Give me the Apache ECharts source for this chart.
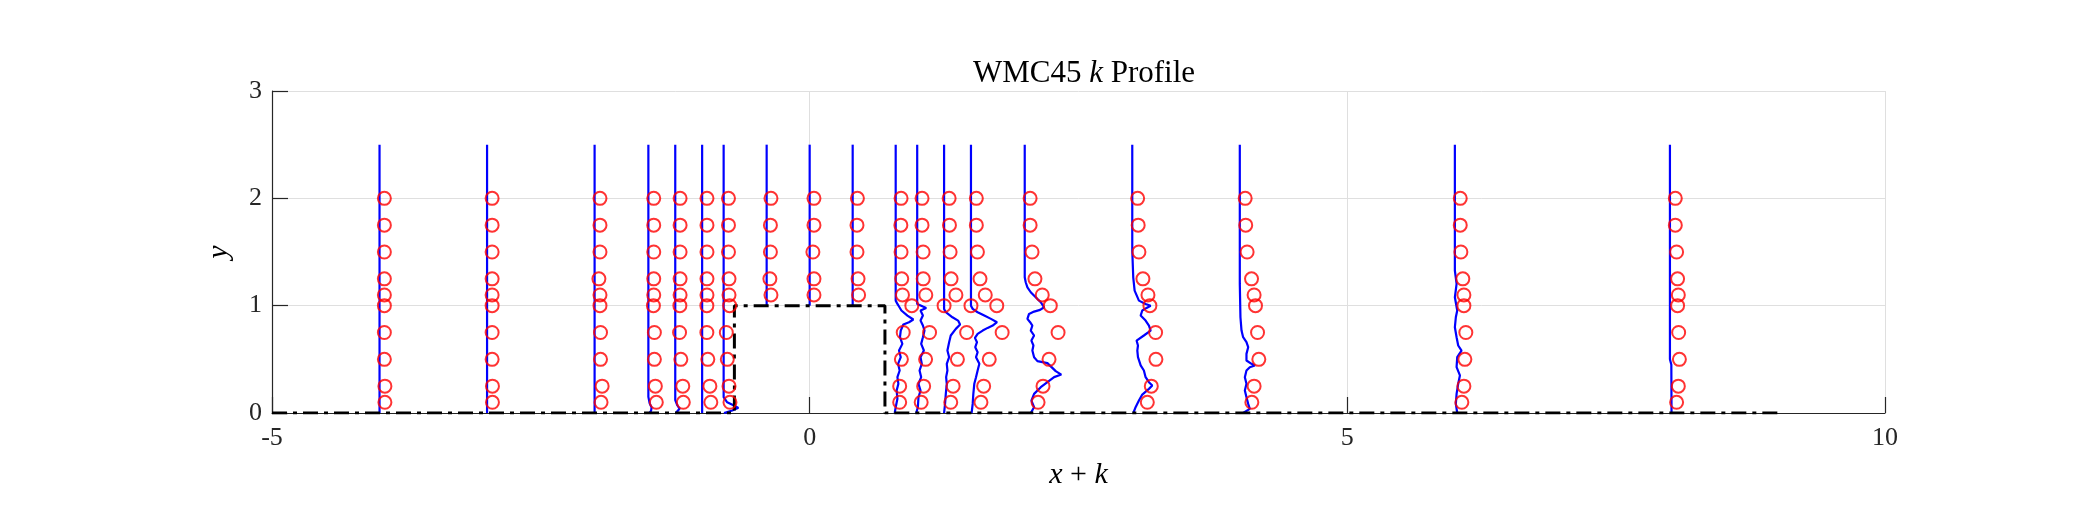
<!DOCTYPE html>
<html>
<head>
<meta charset="utf-8">
<title>WMC45 k Profile</title>
<script src="https://cdn.jsdelivr.net/npm/echarts@6/dist/echarts.min.js"></script>
<style>
  html, body { margin: 0; padding: 0; background: #fff; }
  #chart { width: 2083px; height: 521px; }
</style>
</head>
<body>
<div id="chart"></div>
<script>
// measurement stations (x positions of each profile)
var stations = [-4, -3, -2, -1.5, -1.25, -1, -0.8, -0.4, 0, 0.4, 0.8, 1, 1.25, 1.5, 2, 3, 4, 6, 8];

// heights of the experimental points
var expY = [0.1, 0.25, 0.5, 0.75, 1.0, 1.1, 1.25, 1.5, 1.75, 2.0];

// experimental k (scaled) at each station, same order as expY; null = no point
var expK = [
    [0.05, 0.05, 0.045, 0.045, 0.045, 0.045, 0.045, 0.045, 0.045, 0.045],   // -4
    [0.05, 0.05, 0.047, 0.047, 0.047, 0.047, 0.047, 0.047, 0.047, 0.047],   // -3
    [0.06, 0.07, 0.055, 0.055, 0.05, 0.05, 0.04, 0.05, 0.05, 0.05],         // -2
    [0.074, 0.065, 0.056, 0.056, 0.047, 0.05, 0.05, 0.05, 0.05, 0.05],      // -1.5
    [0.075, 0.07, 0.052, 0.04, 0.043, 0.045, 0.045, 0.045, 0.045, 0.045],   // -1.25
    [0.081, 0.072, 0.053, 0.044, 0.044, 0.045, 0.045, 0.045, 0.045, 0.045], // -1
    [0.059, 0.05, 0.034, 0.025, 0.056, 0.05, 0.05, 0.045, 0.045, 0.045],    // -0.8
    [null, null, null, null, null, 0.04, 0.03, 0.035, 0.035, 0.04],         // -0.4
    [null, null, null, null, null, 0.04, 0.04, 0.03, 0.04, 0.04],           // 0
    [null, null, null, null, null, 0.055, 0.05, 0.04, 0.04, 0.044],         // 0.4
    [0.037, 0.037, 0.053, 0.07, 0.15, 0.063, 0.056, 0.05, 0.048, 0.05],     // 0.8
    [0.037, 0.06, 0.078, 0.115, 0.25, 0.08, 0.056, 0.055, 0.045, 0.045],    // 1
    [0.062, 0.084, 0.124, 0.21, 0.25, 0.11, 0.065, 0.056, 0.05, 0.047],     // 1.25
    [0.093, 0.118, 0.17, 0.29, 0.24, 0.133, 0.084, 0.06, 0.05, 0.05],       // 1.5
    [0.124, 0.17, 0.226, 0.31, 0.238, 0.163, 0.095, 0.068, 0.05, 0.05],     // 2
    [0.14, 0.177, 0.22, 0.217, 0.164, 0.146, 0.099, 0.062, 0.055, 0.05],    // 3
    [0.112, 0.133, 0.177, 0.165, 0.146, 0.133, 0.109, 0.068, 0.055, 0.05],  // 4
    [0.065, 0.084, 0.093, 0.102, 0.084, 0.084, 0.074, 0.056, 0.05, 0.05],   // 6
    [0.062, 0.078, 0.088, 0.081, 0.071, 0.078, 0.071, 0.062, 0.05, 0.05]    // 8
];

// simulated k profiles, [y, k] pairs from bottom to top
var simK = [
    [[0, 0], [2.5, 0]],
    [[0, 0], [2.5, 0]],
    [[0, 0], [2.5, 0]],
    [[0, 0.01], [0.02, 0.025], [0.05, 0.03], [0.09, 0.012], [0.15, 0], [2.5, 0]],
    [[0, 0.005], [0.015, 0.02], [0.04, 0.04], [0.07, 0.02], [0.12, 0], [2.5, 0]],
    [[0, 0], [2.5, 0]],
    [[0, 0.003], [0.023, 0.08], [0.048, 0.137], [0.07, 0.096], [0.1, 0.033], [0.147, 0], [2.5, 0]],
    [[1, 0], [2.5, 0]],
    [[1, 0], [2.5, 0]],
    [[1, 0], [2.5, 0]],
    [[0, -0.009], [0.054, 0], [0.132, 0.016], [0.21, 0.009], [0.272, 0.025], [0.334, 0.016], [0.396, 0.037],
     [0.458, 0.022], [0.52, 0.047], [0.582, 0.031], [0.644, 0.062], [0.706, 0.04], [0.768, 0.047],
     [0.824, 0.071], [0.846, 0.124], [0.871, 0.164], [0.908, 0.109], [0.955, 0.053], [0.992, 0.031],
     [1.016, 0.016], [1.047, 0], [2.5, 0]],
    [[0, -0.009], [0.054, 0.006], [0.147, 0.012], [0.21, 0.031], [0.272, 0.012], [0.334, 0.037], [0.396, 0.022],
     [0.458, 0.043], [0.52, 0.031], [0.582, 0.062], [0.644, 0.037], [0.706, 0.053], [0.768, 0.068],
     [0.815, 0.053], [0.861, 0.031], [0.908, 0.053], [0.955, 0.031], [0.979, 0.084], [0.992, 0.053],
     [1.016, 0], [2.5, 0]],
    [[0, 0], [0.085, 0.009], [0.178, 0.016], [0.272, 0.025], [0.334, 0.019], [0.396, 0.031], [0.458, 0.025],
     [0.52, 0.047], [0.582, 0.031], [0.66, 0.047], [0.722, 0.062], [0.784, 0.109], [0.824, 0.149],
     [0.861, 0.13], [0.892, 0.078], [0.939, 0.016], [0.97, 0], [2.5, 0]],
    [[0, 0.006], [0.085, 0.016], [0.178, 0.022], [0.272, 0.031], [0.334, 0.047], [0.396, 0.062], [0.458, 0.078],
     [0.52, 0.047], [0.566, 0.062], [0.613, 0.04], [0.66, 0.056], [0.7, 0.037], [0.737, 0.062],
     [0.768, 0.109], [0.793, 0.155], [0.815, 0.202], [0.846, 0.242], [0.877, 0.186], [0.908, 0.124],
     [0.939, 0.062], [0.97, 0.016], [1.0, 0], [2.5, 0]],
    [[0, 0.056], [0.054, 0.087], [0.116, 0.062], [0.178, 0.087], [0.24, 0.149], [0.287, 0.211], [0.334, 0.273],
     [0.358, 0.34], [0.39, 0.288], [0.465, 0.211], [0.483, 0.118], [0.52, 0.087], [0.582, 0.071],
     [0.629, 0.081], [0.675, 0.062], [0.722, 0.087], [0.768, 0.056], [0.815, 0.071], [0.846, 0.05],
     [0.877, 0.025], [0.923, 0.04], [0.945, 0.087], [0.961, 0.143], [0.985, 0.18], [1.032, 0.149],
     [1.078, 0.102], [1.125, 0.056], [1.171, 0.025], [1.218, 0.009], [1.264, 0], [2.5, 0]],
    [[0, 0.01], [0.054, 0.031], [0.116, 0.062], [0.172, 0.093], [0.225, 0.155], [0.256, 0.186], [0.287, 0.155],
     [0.334, 0.124], [0.396, 0.108], [0.443, 0.078], [0.52, 0.053], [0.582, 0.047], [0.629, 0.053],
     [0.675, 0.04], [0.722, 0.108], [0.768, 0.171], [0.815, 0.155], [0.861, 0.124], [0.908, 0.078],
     [0.955, 0.093], [0.979, 0.133], [1.0, 0.171], [1.016, 0.124], [1.047, 0.062], [1.14, 0.022],
     [1.264, 0.009], [1.513, 0], [2.5, 0]],
    [[0, 0.031], [0.039, 0.093], [0.085, 0.078], [0.147, 0.062], [0.21, 0.047], [0.272, 0.062], [0.334, 0.047],
     [0.396, 0.062], [0.427, 0.093], [0.443, 0.14], [0.458, 0.109], [0.489, 0.062], [0.551, 0.062],
     [0.613, 0.078], [0.66, 0.062], [0.706, 0.031], [0.768, 0.016], [0.892, 0.006], [1.203, 0], [2.5, 0]],
    [[0, 0.022], [0.085, 0.009], [0.178, 0.016], [0.272, 0.031], [0.35, 0.047], [0.427, 0.016], [0.52, 0.022],
     [0.582, 0.062], [0.629, 0.031], [0.706, 0.016], [0.799, 0], [0.892, 0.009], [0.955, 0.022],
     [1.078, 0], [1.203, 0.016], [1.327, 0], [2.5, 0]],
    [[0, 0.015], [0.45, 0.013], [0.5, 0], [2.5, 0]]
];

// bottom wall with the hill, drawn dash-dot
var wallX = [-5, -0.7, -0.7, 0.7, 0.7, 9];
var wallY = [0, 0, 1, 1, 0, 0];

var xTicks = [-5, 0, 5, 10];
var yTicks = [0, 1, 2, 3];

var serif = '"Liberation Serif", "DejaVu Serif", serif';
var axisColor = '#262626';

var series = [];

// blue lines, one per station
stations.forEach(function (x0, i) {
    series.push({
        type: 'line',
        showSymbol: false,
        silent: true,
        data: simK[i].map(function (p) { return [x0 + p[1], p[0]]; }),
        lineStyle: { color: '#0000ff', width: 2.2 },
        z: 3
    });
});

// red open circles
var expPoints = [];
stations.forEach(function (x0, i) {
    expK[i].forEach(function (k, j) {
        if (k !== null) expPoints.push([x0 + k, expY[j]]);
    });
});
series.push({
    type: 'scatter',
    data: expPoints,
    symbol: 'circle',
    symbolSize: 13,
    itemStyle: { color: 'rgba(0,0,0,0)', borderColor: '#ff0000', borderWidth: 2 },
    z: 5
});

// wall
series.push({
    type: 'line',
    showSymbol: false,
    silent: true,
    data: wallX.map(function (x, i) { return [x, wallY[i]]; }),
    lineStyle: { color: '#000', width: 3, type: [15, 6, 4, 6] },
    z: 4
});

var chart = echarts.init(document.getElementById('chart'));
chart.setOption({
    animation: false,
    backgroundColor: '#fff',
    title: {
        text: 'WMC45 {i|k} Profile',
        left: 1079,
        textAlign: 'center',
        top: 53,
        textStyle: {
            fontFamily: serif, fontSize: 31, fontWeight: 'normal', color: '#000',
            rich: { i: { fontFamily: serif, fontSize: 31, fontStyle: 'italic', color: '#000' } }
        }
    },
    grid: { left: 272, right: 198, top: 91, bottom: 108, containLabel: false },
    xAxis: {
        type: 'value',
        min: xTicks[0],
        max: xTicks[xTicks.length - 1],
        interval: xTicks[1] - xTicks[0],
        name: '{i|x} + {i|k}',
        nameLocation: 'middle',
        nameGap: 47,
        nameTextStyle: {
            fontFamily: serif, fontSize: 30, color: '#000',
            rich: { i: { fontFamily: serif, fontSize: 30, fontStyle: 'italic', color: '#000' } }
        },
        axisLine: { show: true, onZero: false, lineStyle: { color: axisColor, width: 1.2 } },
        axisTick: { show: true, inside: true, length: 16, lineStyle: { color: axisColor, width: 1.2 } },
        axisLabel: { fontFamily: serif, fontSize: 26, color: axisColor, margin: 12 },
        splitLine: { show: true, lineStyle: { color: '#dfdfdf', width: 1 } }
    },
    yAxis: {
        type: 'value',
        min: yTicks[0],
        max: yTicks[yTicks.length - 1],
        interval: yTicks[1] - yTicks[0],
        name: 'y',
        nameLocation: 'middle',
        nameGap: 38,
        nameTextStyle: { fontFamily: serif, fontSize: 30, fontStyle: 'italic', color: '#000' },
        axisLine: { show: true, onZero: false, lineStyle: { color: axisColor, width: 1.2 } },
        axisTick: { show: true, inside: true, length: 16, lineStyle: { color: axisColor, width: 1.2 } },
        axisLabel: { fontFamily: serif, fontSize: 26, color: axisColor, margin: 10 },
        splitLine: { show: true, lineStyle: { color: '#dfdfdf', width: 1 } }
    },
    series: series
});
</script>
</body>
</html>
